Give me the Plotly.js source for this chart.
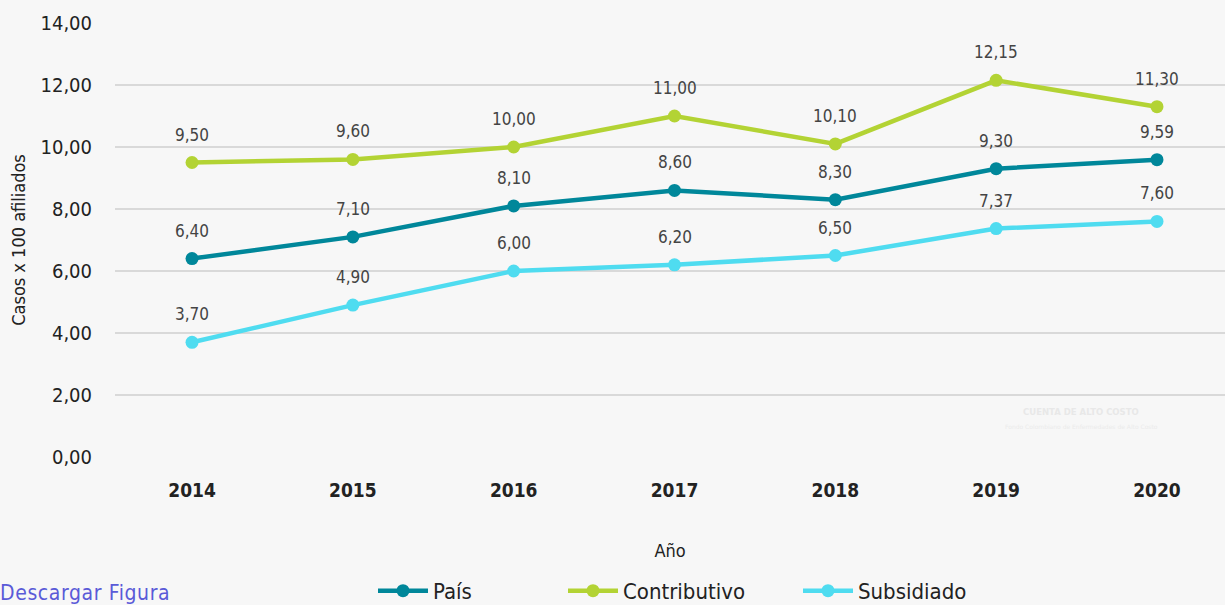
<!DOCTYPE html>
<html>
<head>
<meta charset="utf-8">
<script src="https://cdn.plot.ly/plotly-3.0.1.min.js"></script>
<style>
  html, body { margin: 0; padding: 0; background: #f7f7f7; }
  #chart { width: 1225px; height: 605px; }
  #dl { position: absolute; left: 0px; top: 581px; font-family: "DejaVu Sans Condensed", sans-serif; font-size: 21px; letter-spacing: 0.6px; color: #5a5ad8; white-space: nowrap; }
</style>
</head>
<body>
<div id="chart"></div>
<div id="dl">Descargar Figura</div>
<script>
const years = ['2014', '2015', '2016', '2017', '2018', '2019', '2020'];
const pais = [6.40, 7.10, 8.10, 8.60, 8.30, 9.30, 9.59];
const contributivo = [9.50, 9.60, 10.00, 11.00, 10.10, 12.15, 11.30];
const subsidiado = [3.70, 4.90, 6.00, 6.20, 6.50, 7.37, 7.60];
const seriesNames = ['País', 'Contributivo', 'Subsidiado'];
const yTicks = [0, 2, 4, 6, 8, 10, 12, 14];

const FONT = '"DejaVu Sans Condensed", sans-serif';
const colors = ['#00879a', '#b3d334', '#4fdcf0'];
const allSeries = [pais, contributivo, subsidiado];
const legendIds = ['legend', 'legend2', 'legend3'];
const legendX = [379, 569, 804];

const fmt = v => v.toFixed(2).replace('.', ',');

const traces = allSeries.map((vals, i) => ({
  type: 'scatter',
  mode: 'lines+markers',
  name: seriesNames[i],
  legend: legendIds[i],
  x: years,
  y: vals,
  line: { color: colors[i], width: 4.5 },
  marker: { color: colors[i], size: 13 },
  hoverinfo: 'y'
}));

const annotations = [];
allSeries.forEach(vals => {
  vals.forEach((v, j) => {
    annotations.push({
      x: j, y: v, xref: 'x', yref: 'y',
      text: fmt(v), showarrow: false, yshift: 28,
      font: { family: FONT, size: 17, color: '#444' }
    });
  });
});
annotations.push({
  x: (1081 - 115) / 1110, y: (457 - 412) / 434, xref: 'paper', yref: 'paper', showarrow: false,
  xanchor: 'center', yanchor: 'middle',
  text: '<b>CUENTA DE ALTO COSTO</b>', font: { family: 'DejaVu Sans', size: 8.5, color: '#e8e8e8' }
});
annotations.push({
  x: (1081 - 115) / 1110, y: (457 - 426) / 434, xref: 'paper', yref: 'paper', showarrow: false,
  xanchor: 'center', yanchor: 'middle',
  text: 'Fondo Colombiano de Enfermedades de Alto Costo', font: { family: 'DejaVu Sans', size: 6, color: '#ebebeb' }
});

const makeLegend = px => ({
  orientation: 'h', x: (px - 6) / 1225, xref: 'container', xanchor: 'left',
  y: 0.058, yref: 'container', yanchor: 'top',
  font: { family: FONT, size: 22, color: '#222' },
  bgcolor: 'rgba(0,0,0,0)', itemwidth: 50
});

const layout = {
  width: 1225, height: 605,
  paper_bgcolor: '#f7f7f7', plot_bgcolor: '#f7f7f7',
  separators: ',.',
  margin: { l: 115, r: 0, t: 23, b: 148 },
  font: { family: FONT, color: '#222' },
  showlegend: true,
  legend: makeLegend(legendX[0]),
  legend2: makeLegend(legendX[1]),
  legend3: makeLegend(legendX[2]),
  xaxis: {
    type: 'category', range: [-0.479, 6.423],
    showgrid: false, zeroline: false, showline: false,
    ticks: '', ticklabelstandoff: 20,
    tickfont: { family: FONT, size: 19, color: '#222', weight: 'bold' },
    title: { text: 'Año', font: { family: FONT, size: 18, color: '#222' }, standoff: 44 }
  },
  yaxis: {
    range: [0, 14], tickvals: yTicks, tickformat: '.2f',
    showgrid: true, gridcolor: '#d9d9d9', gridwidth: 2,
    zeroline: false, showline: false, ticks: '',
    ticklabelstandoff: 22,
    tickfont: { family: FONT, size: 20, color: '#222' },
    title: { text: 'Casos x 100 afiliados', font: { family: FONT, size: 18, color: '#222' }, standoff: 10 }
  },
  annotations: annotations
};

Plotly.newPlot('chart', traces, layout, { displayModeBar: false, staticPlot: true });
</script>
</body>
</html>
